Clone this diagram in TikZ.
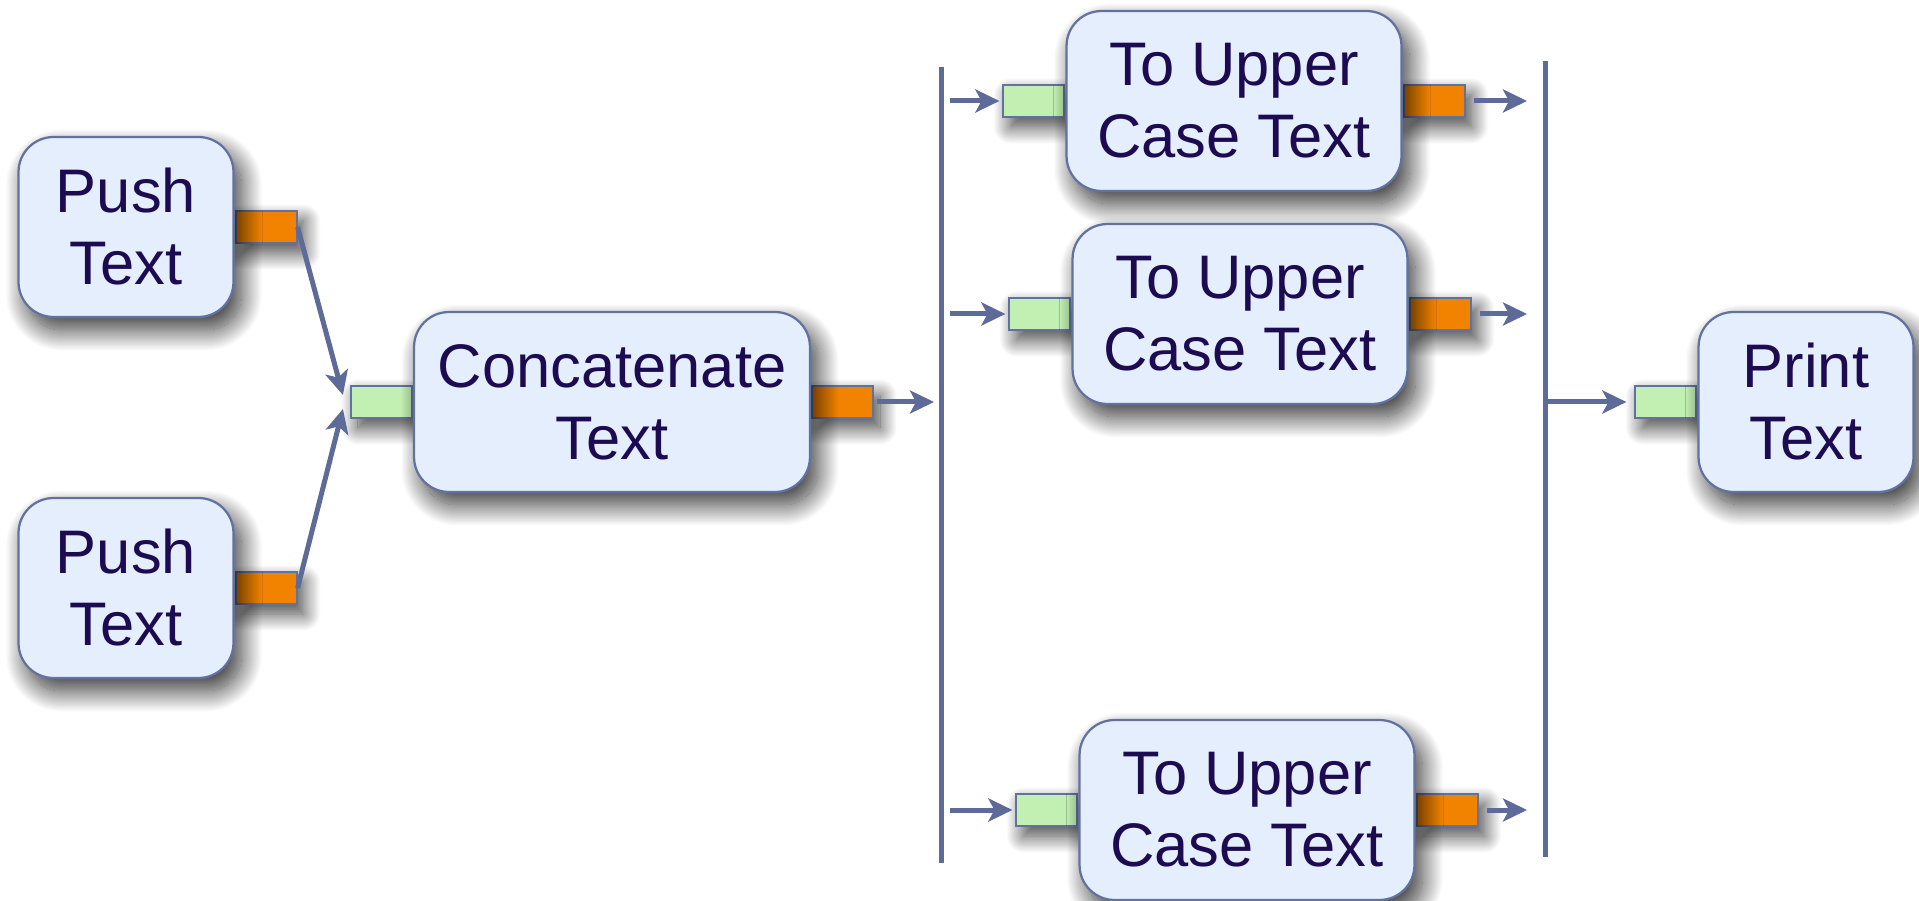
\documentclass[tikz,border=0pt]{standalone}
\usepackage{fontspec}
\setmainfont{Liberation Sans}
\usetikzlibrary{positioning,arrows.meta,shadows.blur}
\definecolor{boxfill}{HTML}{E4EEFC}
\definecolor{boxline}{HTML}{6272A0}
\definecolor{wirecol}{HTML}{5E6A98}
\definecolor{textcol}{HTML}{1C0B50}
\definecolor{outfill}{HTML}{F28300}
\definecolor{infill}{HTML}{C1F0B2}
\pgfdeclarelayer{background}
\pgfsetlayers{background,main}
\tikzstyle{block} = [draw=boxline, fill=boxfill, line width=0.045cm,
    rounded corners=0.7cm, minimum height=3.6cm, minimum width=4.3cm,
    align=center, text=textcol, font=\fontsize{35}{41}\selectfont,
    blur shadow={shadow xshift=0.16cm, shadow yshift=-0.26cm,
        shadow blur radius=0.42cm, shadow blur steps=30, shadow opacity=80}]
\tikzstyle{port} = [draw=boxline, line width=0.04cm, inner sep=0pt,
    minimum width=1.22cm, minimum height=0.64cm,
    blur shadow={shadow xshift=0.14cm, shadow yshift=-0.2cm,
        shadow blur radius=0.34cm, shadow blur steps=24, shadow opacity=75}]
\tikzstyle{inport} = [port, fill=infill]
\tikzstyle{outport} = [port, fill=outfill]
\tikzstyle{wire} = [draw=wirecol, line width=0.1cm,
    -{Stealth[length=0.48cm, width=0.46cm, inset=0.12cm]}]
\tikzstyle{bus} = [draw=wirecol, line width=0.1cm]

\begin{document}
\begin{tikzpicture}[x=0.02cm, y=-0.02cm]
    \useasboundingbox (0,0) rectangle (1919,901);
    % the blocks
    \node [block] (push1) at (126,227) {Push\\Text};
    \node [block] (push2) at (126,588) {Push\\Text};
    \node [block, minimum width=7.92cm] (concat) at (612,402) {Concatenate\\Text};
    \node [block, minimum width=6.7cm] (upper1) at (1234,101) {To Upper\\Case Text};
    \node [block, minimum width=6.7cm] (upper2) at (1240,314) {To Upper\\Case Text};
    \node [block, minimum width=6.7cm] (upper3) at (1247,810) {To Upper\\Case Text};
    \node [block] (print) at (1806,402) {Print\\Text};

    % ports sit behind the blocks
    \begin{pgfonlayer}{background}
        \node [outport, right=0pt of push1] (push1out) {};
        \node [outport, right=0pt of push2] (push2out) {};
        \node [inport, left=0pt of concat] (concatin) {};
        \node [outport, right=0pt of concat] (concatout) {};
        \node [inport, left=0pt of upper1] (upper1in) {};
        \node [outport, right=0pt of upper1] (upper1out) {};
        \node [inport, left=0pt of upper2] (upper2in) {};
        \node [outport, right=0pt of upper2] (upper2out) {};
        \node [inport, left=0pt of upper3] (upper3in) {};
        \node [outport, right=0pt of upper3] (upper3out) {};
        \node [inport, left=0pt of print] (printin) {};
    \end{pgfonlayer}

    % split and join bars
    \coordinate (split top) at (941,67);
    \coordinate (split bottom) at (941,863);
    \coordinate (join top) at (1545,61);
    \coordinate (join bottom) at (1545,857);
    \draw [bus] (split top) -- (split bottom);
    \draw [bus] (join top) -- (join bottom);

    % connections
    \draw [wire] (push1out.east) -- ([xshift=-0.14cm, yshift=0.14cm]concatin.west);
    \draw [wire] (push2out.east) -- ([xshift=-0.14cm, yshift=-0.14cm]concatin.west);
    \draw [wire, shorten <=0.06cm, shorten >=0.14cm] (concatout.east) -- (concatout.east -| split top);
    \foreach \n in {upper1, upper2, upper3} {
        \draw [wire, shorten <=0.18cm, shorten >=0.06cm]
            (split top |- \n in.west) -- (\n in.west);
        \draw [wire, shorten <=0.16cm, shorten >=0.36cm]
            (\n out.east) -- (\n out.east -| join top);
    }
    \draw [wire, shorten <=0.06cm, shorten >=0.16cm] (join top |- printin.west) -- (printin.west);
\end{tikzpicture}
\end{document}
